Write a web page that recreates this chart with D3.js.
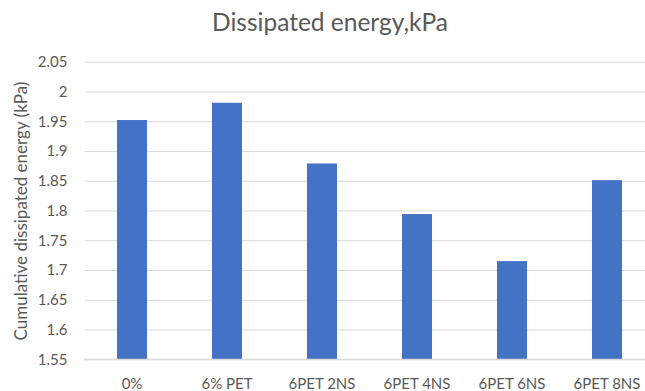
<!DOCTYPE html>
<html>
<head>
<meta charset="utf-8">
<script src="https://cdn.jsdelivr.net/npm/d3@7"></script>
<style>
  html, body { margin: 0; padding: 0; background: #fff; }
  svg { display: block; font-family: Lato, "Open Sans", sans-serif; }
</style>
</head>
<body>
<svg id="chart" width="645" height="391"></svg>
<script>
// Mixture labels and their cumulative dissipated energy (kPa)
const categories = ["0%", "6% PET", "6PET 2NS", "6PET 4NS", "6PET 6NS", "6PET 8NS"];
const energy = [1.952, 1.981, 1.879, 1.794, 1.715, 1.851];
const yTicks = [1.55, 1.6, 1.65, 1.7, 1.75, 1.8, 1.85, 1.9, 1.95, 2, 2.05];

const svg = d3.select("#chart");
const W = 645, H = 391;
const plot = { left: 84.5, right: 654.5, top: 61.7, bottom: 359.3 };
const textColor = "#595959";

const x = d3.scaleBand()
  .domain(categories)
  .range([plot.left, plot.right])
  .paddingInner(0.684)
  .paddingOuter(0.342);

const y = d3.scaleLinear()
  .domain([1.55, 2.05])
  .range([plot.bottom, plot.top]);

// Horizontal gridlines
const grid = svg.append("g")
  .attr("transform", `translate(${plot.left},0)`)
  .call(d3.axisLeft(y).tickValues(yTicks).tickSize(-(W - plot.left)).tickFormat(""));
grid.select(".domain").remove();
grid.selectAll(".tick line").attr("stroke", "#d9d9d9").attr("stroke-width", 1);

// Y tick labels
const yAxis = svg.append("g")
  .attr("transform", `translate(${plot.left},0)`)
  .call(d3.axisLeft(y).tickValues(yTicks).tickSize(0).tickPadding(17).tickFormat(d3.format("")));
yAxis.select(".domain").remove();
yAxis.selectAll("text")
  .attr("fill", textColor)
  .style("font-size", "15px")
  .style("font-family", "Lato, 'Open Sans', sans-serif");

// Bars
svg.append("g").selectAll("rect")
  .data(categories.map((c, i) => ({ c, v: energy[i] })))
  .join("rect")
  .attr("x", d => x(d.c))
  .attr("width", x.bandwidth())
  .attr("y", d => y(d.v))
  .attr("height", d => y(1.55) - y(d.v))
  .attr("fill", "#4472c4");

// Baseline
svg.append("line")
  .attr("x1", plot.left).attr("x2", W)
  .attr("y1", y(1.55)).attr("y2", y(1.55))
  .attr("stroke", "#d9d9d9").attr("stroke-width", 1.3);

// X axis labels
const xAxis = svg.append("g")
  .attr("transform", `translate(0,${plot.bottom})`)
  .call(d3.axisBottom(x).tickSize(0).tickPadding(19));
xAxis.select(".domain").remove();
xAxis.selectAll("text")
  .attr("fill", textColor)
  .style("font-size", "15px")
  .style("font-family", "Lato, 'Open Sans', sans-serif");

// Title
svg.append("text")
  .attr("x", 330).attr("y", 31)
  .attr("text-anchor", "middle")
  .attr("fill", textColor)
  .style("font-size", "24.5px")
  .text("Dissipated energy,kPa");

// Y axis title
svg.append("text")
  .attr("transform", `translate(27,211) rotate(-90)`)
  .attr("text-anchor", "middle")
  .attr("fill", textColor)
  .style("font-size", "17px")
  .text("Cumulative dissipated energy (kPa)");
</script>
</body>
</html>
